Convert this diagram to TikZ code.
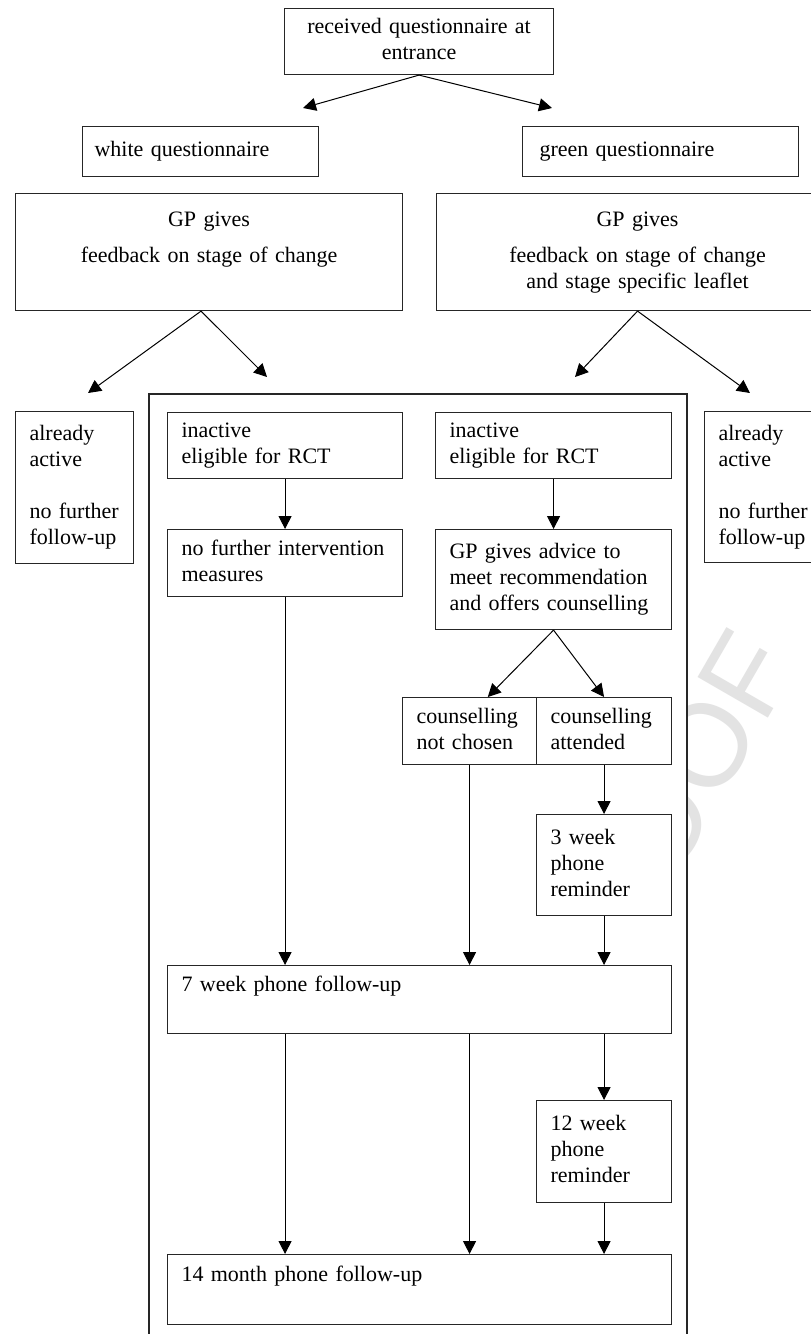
\documentclass[tikz,border=0pt]{standalone}
\usepackage{fontspec}
\setmainfont{Liberation Serif}
\newfontfamily\wmfont{Liberation Sans}
\usetikzlibrary{arrows.meta,calc}
\begin{document}
\begin{tikzpicture}[x=1pt,y=-1pt,
  box/.style={draw=black!85, line width=1.1pt, fill=white, rectangle,
    inner ysep=0pt, inner xsep=14pt, anchor=north west,
    font=\fontsize{22}{26}\selectfont, align=left,
    execute at begin node=\strut, execute at end node=\strut},
  cbox/.style={box, align=center},
  arr/.style={draw=black, line width=1pt, -{Triangle[length=13pt,width=13pt]}},
  frameline/.style={draw=black!85, line width=1.1pt}]
\useasboundingbox (0,0) rectangle (811,1334);
\clip (0,0) rectangle (811,1334);
\fill[white] (0,0) rectangle (811,1334);
% watermark (only its right part shows beside the frame)
\node[rotate=60, text=black!11, font=\wmfont\fontsize{118}{120}\selectfont, inner sep=0pt] (wm) at (700,754) {OOF};
% frame
\fill[white] (149,394) rectangle (687,1345);
\draw[frameline] (149,1345) |- (687,394) -- (687,1345);
% boxes
\node[cbox, text width=241pt, minimum height=66pt] (top) at (284,8) {received~questionnaire~at\\entrance};
\node[box, inner xsep=12pt, text width=212pt, minimum height=50pt] (white) at (82,126) {white~questionnaire};
\node[box, inner xsep=17pt, text width=242pt, minimum height=50pt] (green) at (522,126) {green~questionnaire};
\node[cbox, text width=359pt, minimum height=117pt] (gpl) at (15,193) {GP~gives\\[10pt]feedback~on~stage~of~change\\};
\node[cbox, text width=374pt, minimum height=117pt] (gpr) at (436,193) {GP~gives\\[10pt]feedback~on~stage~of~change\\and~stage~specific~leaflet};
\node[box, text width=90pt, minimum height=152pt] (alL) at (15,411) {already\\active\\[26pt]no~further\\follow-up};
\node[box, text width=90pt, minimum height=151pt] (alR) at (704,411) {already\\active\\[26pt]no~further\\follow-up};
\node[box, text width=207pt, minimum height=66pt] (inL) at (167,412) {inactive\\eligible~for~RCT};
\node[box, text width=208pt, minimum height=66pt] (inR) at (435,412) {inactive\\eligible~for~RCT};
\node[box, text width=207pt, minimum height=67pt] (nof) at (167,529) {no~further~intervention\\measures};
\node[box, text width=208pt, minimum height=100pt] (adv) at (435,529) {GP~gives~advice~to\\meet~recommendation\\and~offers~counselling};
\node[box, text width=106pt, minimum height=67pt] (nc) at (402,697) {counselling\\not~chosen};
\node[box, text width=107pt, minimum height=67pt] (att) at (536,697) {counselling\\attended};
\node[box, text width=107pt, minimum height=101pt] (w3) at (536,814) {3~week\\phone\\reminder};
\node[box, text width=476pt, minimum height=68pt] (wk7) at (167,965) {7~week~phone~follow-up\\};
\node[box, text width=107pt, minimum height=102pt] (w12) at (536,1100) {12~week\\phone\\reminder};
\node[box, text width=476pt, minimum height=70pt] (m14) at (167,1254) {14~month~phone~follow-up\\};
% free arrow ends
\coordinate (t1) at (303,108);
\coordinate (t2) at (552,108);
\coordinate (t3) at (88,393);
\coordinate (t4) at (267,377);
\coordinate (t5) at (575,377);
\coordinate (t6) at (750,393);
% arrows
\draw[arr] (top.south) -- (t1);
\draw[arr] (top.south) -- (t2);
\draw[arr] ($(gpl.south)+(-8,0)$) -- (t3);
\draw[arr] ($(gpl.south)+(-8,0)$) -- (t4);
\draw[arr] (gpr.south) -- (t5);
\draw[arr] (gpr.south) -- (t6);
\draw[arr] (inL.south) -- (nof.north);
\draw[arr] (inR.south) -- (adv.north);
\draw[arr] (adv.south) -- ($(nc.north)!0.27!(nc.north east)$);
\draw[arr] (adv.south) -- (att.north);
\draw[arr] (att.south) -- (w3.north);
\draw[arr] (nof.south) -- (nof.south |- wk7.north);
\draw[arr] (nc.south) -- (nc.south |- wk7.north);
\draw[arr] (w3.south) -- (w3.south |- wk7.north);
\draw[arr] (nof.south |- wk7.south) -- (nof.south |- m14.north);
\draw[arr] (nc.south |- wk7.south) -- (nc.south |- m14.north);
\draw[arr] (w3.south |- wk7.south) -- (w12.north);
\draw[arr] (w12.south) -- (w12.south |- m14.north);
\end{tikzpicture}
\end{document}
